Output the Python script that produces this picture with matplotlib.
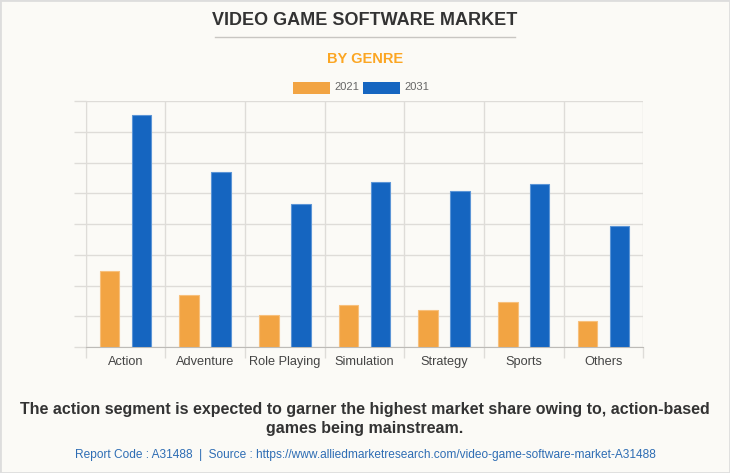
import numpy as np
import matplotlib
matplotlib.use('Agg')
import matplotlib.pyplot as plt
from matplotlib.patches import Rectangle
from matplotlib.lines import Line2D

genres = ['Action', 'Adventure', 'Role Playing', 'Simulation', 'Strategy',
          'Sports', 'Others']
values_2021 = [2.47, 1.69, 1.03, 1.35, 1.19, 1.46, 0.83]
values_2031 = [7.55, 5.69, 4.66, 5.38, 5.08, 5.30, 3.94]
series_labels = ['2021', '2031']

ORANGE = '#F2A443'
BLUE = '#1565C0'
BG = '#FBFAF6'
GRID = '#DEDCD8'

plt.rcParams['font.family'] = ['Liberation Sans', 'DejaVu Sans']

fig = plt.figure(figsize=(7.3, 4.73), dpi=100, facecolor=BG)
ax = fig.add_axes([0.1174, 0.2664, 0.7638, 0.520])
ax.set_facecolor(BG)

x = np.arange(len(genres))
w = 0.245
off = 0.2
ax.bar(x - off, values_2021, w, color=ORANGE, edgecolor='#F7C07C', lw=0.8,
       zorder=3)
ax.bar(x + off, values_2031, w, color=BLUE, edgecolor='#5C95D6', lw=0.8,
       zorder=3)

ax.set_xlim(-0.5, len(genres) - 0.5)
ax.set_ylim(0, 8)
ax.set_yticks(np.arange(0, 9, 1))
ax.set_yticklabels([])
ax.tick_params(axis='y', length=9, color=GRID, width=1)
ax.grid(axis='y', color=GRID, lw=1, zorder=0)

ax.set_xticks(x)
ax.set_xticklabels(genres, fontsize=9.2, color='#444444')
ax.tick_params(axis='x', length=0, pad=6.5)
ax.set_xticks(np.arange(-0.5, len(genres), 1), minor=True)
ax.tick_params(axis='x', which='minor', length=8, color=GRID, width=1)
ax.grid(axis='x', which='minor', color=GRID, lw=1, zorder=0)

for s in ['top', 'right']:
    ax.spines[s].set_visible(False)
ax.spines['left'].set_color(GRID)
ax.spines['bottom'].set_color('#BDBBB7')

fig.text(0.5, 1 - 20.5 / 473, 'VIDEO GAME SOFTWARE MARKET', ha='center',
         va='center', fontsize=13, fontweight='bold', color='#333333')
fig.add_artist(Line2D([215 / 730, 515 / 730], [1 - 37.5 / 473] * 2,
                      color='#C8C6C2', lw=1))
fig.text(0.5, 1 - 59 / 473, 'BY GENRE', ha='center', va='center',
         fontsize=10.5, fontweight='bold', color='#FBA623')

# legend
for px, col, lab in [(293, ORANGE, series_labels[0]),
                     (363, BLUE, series_labels[1])]:
    fig.add_artist(Rectangle((px / 730, 1 - 94 / 473), 37 / 730, 12 / 473,
                             facecolor=col, edgecolor='none'))
    fig.text((px + 41) / 730, 1 - 87.5 / 473, lab, ha='left', va='center',
             fontsize=8, color='#666666')

fig.text(0.5, 1 - 409 / 473,
         'The action segment is expected to garner the highest market share '
         'owing to, action-based', ha='center', va='center', fontsize=11.5,
         fontweight='bold', color='#333333')
fig.text(0.5, 1 - 428 / 473, 'games being mainstream.', ha='center',
         va='center', fontsize=11.5, fontweight='bold', color='#333333')
fig.text(0.5, 1 - 455 / 473,
         'Report Code : A31488  |  Source : https://www.alliedmarketresearch.com/'
         'video-game-software-market-A31488', ha='center', va='center',
         fontsize=8.6, color='#2E6DB4')

fig.add_artist(Rectangle((0, 0), 1, 1, transform=fig.transFigure,
                         facecolor='none', edgecolor='#DDDDDD', lw=2))

fig.savefig('out.png', dpi=100, facecolor=BG)
